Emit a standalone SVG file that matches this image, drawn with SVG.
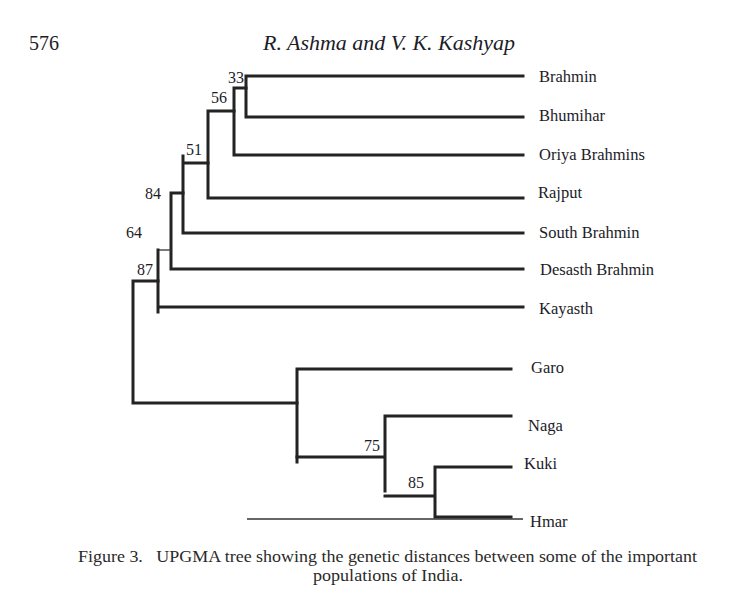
<svg xmlns="http://www.w3.org/2000/svg" width="751" height="604" viewBox="0 0 751 604">
<style>
.e{stroke:#232323;stroke-width:3;fill:none;stroke-linecap:square}
.t{stroke:#333;stroke-width:1.3;fill:none}
text{font-family:"Liberation Serif","Times New Roman",serif;fill:#1c1c28}
.lb{font-size:16.5px}
.bs{font-size:16px}
.hd{font-size:21px}
.cp{font-size:16.5px;fill:#2a2a2a}
</style>
<rect width="751" height="604" fill="#fff"/>
<g id="header">
<text class="hd" x="29" y="50" textLength="30" lengthAdjust="spacingAndGlyphs">576</text>
<text class="hd" x="263" y="50" font-style="italic" textLength="252" lengthAdjust="spacingAndGlyphs">R. Ashma and V. K. Kashyap</text>
</g>
<g id="connectors">
<path class="e" d="M246 76V117M246 76H523M246 117H523"/>
<path class="e" d="M234 88H246M234 88V155M234 155H523"/>
<path class="e" d="M208 111H234M208 111V198M208 198H523"/>
<path class="e" d="M183 163H208M183 156V233M183 233H523"/>
<path class="e" d="M171 193H183M171 193V269M171 269H523"/>
<path class="t" d="M158 250H171"/>
<path class="e" d="M158 250V312M158 307H523"/>
<path class="e" d="M133 281H158M133 281V403M133 403H297"/>
<path class="e" d="M297 369V462M297 369H511"/>
<path class="e" d="M297 457H385M385 416V491M385 416H511"/>
<path class="e" d="M385 496H435M435 467V517M435 467H511M435 517H511"/>
<path class="t" d="M247 519H523"/>
</g>
<g id="bootstrap">
<text class="bs" x="228" y="83">33</text>
<text class="bs" x="211" y="103">56</text>
<text class="bs" x="186" y="155">51</text>
<text class="bs" x="145" y="199">84</text>
<text class="bs" x="126" y="238">64</text>
<text class="bs" x="137" y="275">87</text>
<text class="bs" x="364" y="451">75</text>
<text class="bs" x="408" y="488">85</text>
</g>
<g id="n-brahmin"><text class="lb" x="539" y="82">Brahmin</text></g>
<g id="n-bhumihar"><text class="lb" x="539" y="121">Bhumihar</text></g>
<g id="n-oriya"><text class="lb" x="539" y="160">Oriya Brahmins</text></g>
<g id="n-rajput"><text class="lb" x="538" y="198">Rajput</text></g>
<g id="n-south"><text class="lb" x="539" y="238">South Brahmin</text></g>
<g id="n-desasth"><text class="lb" x="540" y="275">Desasth Brahmin</text></g>
<g id="n-kayasth"><text class="lb" x="539" y="314">Kayasth</text></g>
<g id="n-garo"><text class="lb" x="531" y="373">Garo</text></g>
<g id="n-naga"><text class="lb" x="528" y="431">Naga</text></g>
<g id="n-kuki"><text class="lb" x="524" y="469">Kuki</text></g>
<g id="n-hmar"><text class="lb" x="530" y="527">Hmar</text></g>
<g id="caption">
<text class="cp" x="78" y="562" textLength="619" lengthAdjust="spacingAndGlyphs" xml:space="preserve">Figure 3.   UPGMA tree showing the genetic distances between some of the important</text>
<text class="cp" x="313" y="581" textLength="150" lengthAdjust="spacingAndGlyphs">populations of India.</text>
</g>
</svg>
